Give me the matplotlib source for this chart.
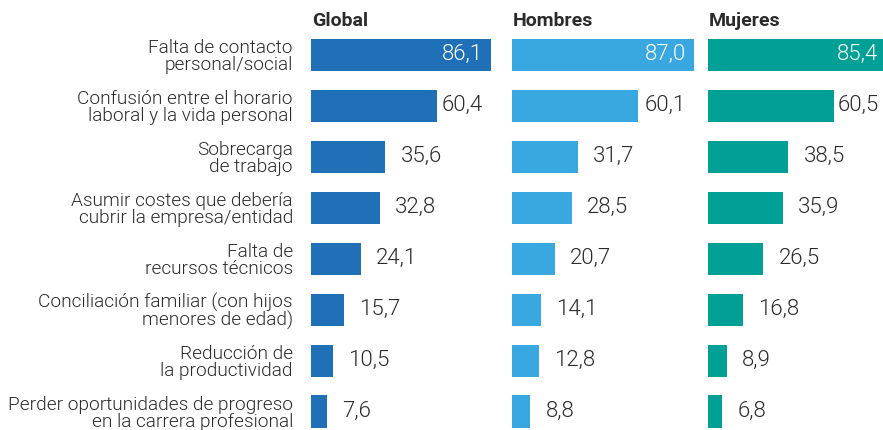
import matplotlib.pyplot as plt
import numpy as np

# Datos
motivos = [
    "Falta de contacto\npersonal/social",
    "Confusión entre el horario\nlaboral y la vida personal",
    "Sobrecarga\nde trabajo",
    "Asumir costes que debería\ncubrir la empresa/entidad",
    "Falta de\nrecursos técnicos",
    "Conciliación familiar (con hijos\nmenores de edad)",
    "Reducción de\nla productividad",
    "Perder oportunidades de progreso\nen la carrera profesional",
]
grupos = ["Global", "Hombres", "Mujeres"]
global_vals = [86.1, 60.4, 35.6, 32.8, 24.1, 15.7, 10.5, 7.6]
hombres_vals = [87.0, 60.1, 31.7, 28.5, 20.7, 14.1, 12.8, 8.8]
mujeres_vals = [85.4, 60.5, 38.5, 35.9, 26.5, 16.8, 8.9, 6.8]
colores = ["#1f70b7", "#3aa8e0", "#00a096"]

plt.rcParams['font.family'] = ['Roboto', 'DejaVu Sans']
texto = "#2b2b2b"

W, H = 883, 430
fig = plt.figure(figsize=(W / 100, H / 100), dpi=100, facecolor='white')

xmax = 87.0
px_unit = 2.09
lefts = [311, 512, 708]
top_px, bot_px = 29.5, 437
y = np.arange(len(motivos))

for i, (nombre, vals, color) in enumerate(zip(grupos, [global_vals, hombres_vals, mujeres_vals], colores)):
    ax = fig.add_axes([lefts[i] / W, 1 - bot_px / H, xmax * px_unit / W, (bot_px - top_px) / H])
    ax.barh(y, vals, height=0.63, color=color, clip_on=False)
    ax.set_xlim(0, xmax)
    ax.set_ylim(len(motivos) - 0.5, -0.5)
    for s in ax.spines.values():
        s.set_visible(False)
    ax.set_xticks([])
    if i == 0:
        ax.set_yticks(y)
        ax.set_yticklabels(motivos, fontsize=13.7, color=texto, linespacing=0.95, fontweight=300)
        ax.tick_params(axis='y', length=0, pad=13)
    else:
        ax.set_yticks([])

    vmax = max(vals)
    for yi, v in zip(y, vals):
        lbl = f"{v:.1f}".replace('.', ',')
        if v == vmax:
            ax.annotate(lbl, (v, yi), xytext=(-8, 0), textcoords='offset pixels',
                        ha='right', va='center', fontsize=16, color='white', fontweight=300,
                        annotation_clip=False)
        elif v > 50:
            ax.annotate(lbl, (vmax, yi), xytext=(-8, 0), textcoords='offset pixels',
                        ha='right', va='center', fontsize=16, color=texto, fontweight=300,
                        annotation_clip=False)
        else:
            ax.annotate(lbl, (v, yi), xytext=(15, 0), textcoords='offset pixels',
                        ha='left', va='center', fontsize=16, color=texto, fontweight=300,
                        annotation_clip=False)

    ax.annotate(nombre, (0, 1), xycoords='axes fraction', xytext=(1, -1),
                textcoords='offset pixels', ha='left', va='bottom',
                fontsize=14, fontweight='bold', color=texto)

fig.savefig("out.png", dpi=100, facecolor='white')
